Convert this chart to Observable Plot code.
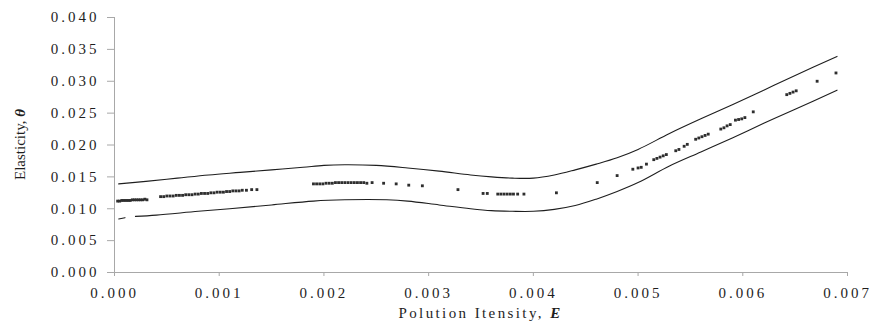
<!DOCTYPE html>
<html>
<head>
<meta charset="utf-8">
<script src="https://cdn.jsdelivr.net/npm/d3@7"></script>
<script src="https://cdn.jsdelivr.net/npm/@observablehq/plot@0.6"></script>
<style>
  html, body { margin: 0; padding: 0; background: #fff; }
  #chart svg { display: block; }
</style>
</head>
<body>
<div id="chart"></div>
<script>
// ---- data ----
const xTicks = [0, 0.001, 0.002, 0.003, 0.004, 0.005, 0.006, 0.007];
const yTicks = [0, 0.005, 0.010, 0.015, 0.020, 0.025, 0.030, 0.035, 0.040];

// observed points (Polution intensity E, elasticity θ)
const pointE = [
  0.00003,0.00005,0.00007,0.00009,0.00011,0.00013,0.00015,0.00017,0.00019,0.00021,0.00023,0.00025,0.00027,0.00029,0.00031,
  0.00044,0.00047,0.00050,0.00053,0.00056,0.00059,0.00062,0.00065,0.00068,0.00071,0.00074,0.00077,0.00080,0.00083,0.00086,
  0.00089,0.00092,0.00095,0.00098,0.00101,0.00104,0.00107,0.00110,0.00113,0.00116,0.00119,0.00122,0.00126,0.00131,0.00136,
  0.00190,0.00193,0.00196,0.00199,0.00202,0.00205,0.00208,0.00211,0.00214,0.00217,0.00220,0.00223,0.00226,0.00229,0.00232,
  0.00235,0.00238,0.00241,
  0.00246,0.00257,0.00269,0.00281,0.00294,0.00328,0.00352,0.00356,
  0.00366,0.00369,0.00372,0.00375,0.00378,0.00381,0.00385,0.00391,0.00422,
  0.00461,0.00480,0.00495,0.00500,0.00503,0.00508,
  0.00515,0.00518,0.00521,0.00524,0.00527,0.00536,0.00539,0.00544,0.00547,
  0.00555,0.00558,0.00561,0.00564,0.00567,0.00579,0.00582,0.00585,0.00588,
  0.00593,0.00596,0.00599,0.00602,0.00610,
  0.00642,0.00645,0.00648,0.00651,0.00671,0.00689
];
const pointTheta = [
  0.0112,0.0112,0.0113,0.0113,0.0113,0.0113,0.0113,0.0114,0.0114,0.0114,0.0114,0.0114,0.0114,0.0115,0.0114,
  0.0119,0.0119,0.0120,0.0120,0.0120,0.0121,0.0121,0.0121,0.0122,0.0122,0.0122,0.0123,0.0123,0.0124,0.0124,
  0.0124,0.0125,0.0125,0.0126,0.0126,0.0126,0.0127,0.0127,0.0128,0.0128,0.0128,0.0129,0.0129,0.0130,0.0130,
  0.0139,0.0139,0.0139,0.0139,0.0140,0.0140,0.0140,0.0141,0.0141,0.0141,0.0141,0.0141,0.0141,0.0141,0.0141,
  0.0141,0.0141,0.0140,
  0.0141,0.0140,0.0139,0.0137,0.0136,0.0130,0.0124,0.0124,
  0.0123,0.0123,0.0123,0.0123,0.0123,0.0123,0.0123,0.0123,0.0125,
  0.0141,0.0152,0.0162,0.0164,0.0165,0.0170,
  0.0177,0.0179,0.0181,0.0183,0.0185,0.0191,0.0193,0.0198,0.0201,
  0.0209,0.0211,0.0213,0.0215,0.0217,0.0225,0.0227,0.0230,0.0232,
  0.0239,0.0240,0.0241,0.0243,0.0252,
  0.0279,0.0281,0.0283,0.0285,0.0300,0.0313
];

// upper band line
const upperE = [0.00004,0.0003,0.0006,0.0009,0.0012,0.0015,0.0018,0.0020,0.0022,0.0025,0.0028,0.0031,0.0034,0.0036,0.0038,0.0040,0.0042,0.0044,0.0046,0.0048,0.0050,0.0053,0.0056,0.0059,0.0062,0.0065,0.0069];
const upperTheta = [0.0139,0.0143,0.0148,0.0153,0.0157,0.0161,0.0165,0.0168,0.0169,0.0168,0.0164,0.0159,0.0153,0.0150,0.0148,0.0148,0.0153,0.0161,0.0170,0.0180,0.0193,0.0218,0.0241,0.0263,0.0286,0.0309,0.0339];

// lower band line (short dash at the start, then the continuous line)
const lowerDashE = [0.00004,0.0001];
const lowerDashTheta = [0.0084,0.0086];
const lowerE = [0.0002,0.0004,0.0008,0.0011,0.0015,0.0019,0.0022,0.0026,0.0028,0.0031,0.0034,0.0036,0.0038,0.0040,0.0042,0.0044,0.0046,0.0048,0.0050,0.0053,0.0056,0.0059,0.0062,0.0065,0.0069];
const lowerTheta = [0.0088,0.0090,0.0096,0.0100,0.0106,0.0112,0.0114,0.0114,0.0112,0.0106,0.0100,0.0097,0.0096,0.0096,0.0099,0.0105,0.0115,0.0127,0.0141,0.0167,0.0189,0.0211,0.0234,0.0256,0.0286];

// ---- tables built from the arrays ----
const points = pointE.map((e, i) => ({E: e, theta: pointTheta[i]}));
const upper = upperE.map((e, i) => ({E: e, theta: upperTheta[i]}));
const lowerDash = lowerDashE.map((e, i) => ({E: e, theta: lowerDashTheta[i]}));
const lower = lowerE.map((e, i) => ({E: e, theta: lowerTheta[i]}));

const fmt = d3.format(".3f");
const axisGray = "#a8a8a8";
const ink = "#1e1e1e";

const plot = Plot.plot({
  width: 872,
  height: 324,
  marginLeft: 114,
  marginRight: 25,
  marginTop: 17,
  marginBottom: 52,
  style: {fontFamily: "'Liberation Serif', 'Times New Roman', serif", fontSize: "15px", color: ink, background: "#fff"},
  x: {domain: [0, 0.007]},
  y: {domain: [0, 0.040]},
  marks: [
    Plot.ruleX([0], {stroke: axisGray, strokeWidth: 1}),
    Plot.ruleY([0], {stroke: axisGray, strokeWidth: 1}),
    Plot.axisY(yTicks, {tickSize: 7, tickPadding: 8, tickFormat: fmt, stroke: axisGray, fill: ink, label: null}),
    Plot.axisX(xTicks, {tickSize: 4, tickPadding: 11, tickFormat: fmt, stroke: axisGray, fill: ink, label: null}),
    Plot.line(upper, {x: "E", y: "theta", stroke: ink, strokeWidth: 1.1, curve: "catmull-rom"}),
    Plot.line(lowerDash, {x: "E", y: "theta", stroke: ink, strokeWidth: 1.1}),
    Plot.line(lower, {x: "E", y: "theta", stroke: ink, strokeWidth: 1.1, curve: "catmull-rom"}),
    Plot.dot(points, {x: "E", y: "theta", symbol: "square", r: 1.6, fill: "#2e2e2e", stroke: "none"})
  ]
});

// widen tick label spacing like the scanned figure
d3.select(plot).selectAll('g[aria-label="y-axis tick label"] text, g[aria-label="x-axis tick label"] text')
  .attr("letter-spacing", "3px");

// axis titles with bold italic symbols
const xs = plot.scale("x"), ys = plot.scale("y");
const svg = d3.select(plot);
const cx = (xs.range[0] + xs.range[1]) / 2;
const cy = (ys.range[0] + ys.range[1]) / 2;

const xl = svg.append("text")
  .attr("x", cx).attr("y", 318)
  .attr("text-anchor", "middle")
  .attr("letter-spacing", "2.4px")
  .attr("fill", ink)
  .style("font-size", "15px");
xl.append("tspan").text("Polution Itensity, ");
xl.append("tspan").attr("font-weight", "bold").attr("font-style", "italic").text("E");

const yl = svg.append("text")
  .attr("transform", `translate(25,${cy}) rotate(-90)`)
  .attr("text-anchor", "middle")
  .attr("fill", ink)
  .style("font-size", "15px");
yl.append("tspan").text("Elasticity, ");
yl.append("tspan").attr("font-weight", "bold").attr("font-style", "italic").text("θ");

document.getElementById("chart").appendChild(plot);
</script>
</body>
</html>
